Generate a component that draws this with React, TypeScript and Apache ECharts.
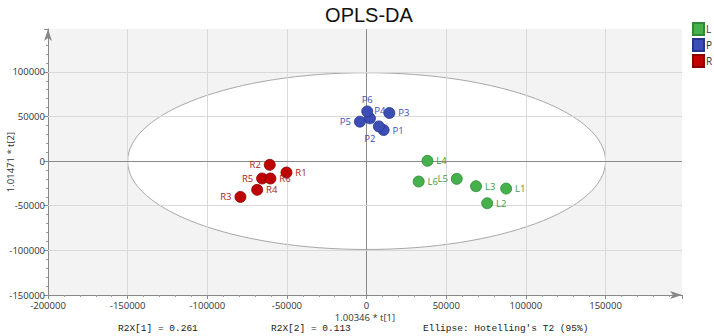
import React, { useEffect, useRef } from "react";
import * as echarts from "echarts";

// ---- data ----
const groupNames = ["L", "P", "R"];
const groupColors = ["#45b04c", "#3c4db5", "#c00000"];
const groupBorders = ["#2f8a37", "#27358c", "#8a0000"];
const groupLabelColors = ["#3f9a46", "#3c4db5", "#a51c1c"];

const lNames = ["L1", "L2", "L3", "L4", "L5", "L6"];
const lX = [87600, 75700, 68700, 38200, 56600, 32700];
const lY = [-30800, -47200, -28100, 300, -19900, -22900];

const pNames = ["P1", "P2", "P3", "P4", "P5", "P6"];
const pX = [10700, 7700, 14300, 2100, -4200, 400];
const pY = [34800, 38900, 53900, 47900, 44200, 55700];

const rNames = ["R1", "R2", "R3", "R4", "R5", "R6"];
const rX = [-50300, -60800, -79200, -68700, -65600, -60400];
const rY = [-12800, -4200, -40100, -32200, -19500, -19500];

const ellipseCenter = [0, 0];
const ellipseRadii = [150000, 99000];

const xRange = [-200000, 198000];
const yRange = [-150000, 148000];
const tickStep = 50000;
const xGridValues = [-150000, -100000, -50000, 0, 50000, 100000, 150000];
const yGridValues = [-100000, -50000, 0, 50000, 100000];

const footerTexts = ["R2X[1] = 0.261", "R2X[2] = 0.113", "Ellipse: Hotelling's T2 (95%)"];

// label placement per point (style)
const lPos = ["right", "right", "right", "right", "left", "right"];
const pPos = ["right", "bottom", "right", "top", "left", "top"];
const rPos = ["right", "left", "left", "right", "left", "right"];

function buildPoints(names: string[], xs: number[], ys: number[], pos: string[]) {
  return names.map((n, i) => {
    const item: any = {
      name: n,
      value: [xs[i], ys[i]],
      label: { position: pos[i] },
    };
    if (n === "P2") item.label.offset = [-9, -2];
    if (n === "P4") item.label.offset = [10, 6];
    if (n === "P6") item.label.offset = [0, 2];
    return item;
  });
}

export default function App() {
  const ref = useRef<HTMLDivElement>(null);
  useEffect(() => {
    if (!ref.current) return;
    const chart = echarts.init(ref.current, undefined, { renderer: "svg" });
    const labelFont = "'Open Sans', 'Noto Sans', sans-serif";
    const mono = "'Liberation Mono', 'DejaVu Sans Mono', monospace";
    const sets = [
      buildPoints(lNames, lX, lY, lPos),
      buildPoints(pNames, pX, pY, pPos),
      buildPoints(rNames, rX, rY, rPos),
    ];
    const gridLineStyle = { color: "#d9d9d9", width: 1, type: "solid" };
    const zeroLineStyle = { color: "#8a8a8a", width: 1, type: "solid" };
    const markData = [
      ...xGridValues.map((v) => ({ xAxis: v, lineStyle: v === 0 ? zeroLineStyle : gridLineStyle })),
      ...yGridValues.map((v) => ({ yAxis: v, lineStyle: v === 0 ? zeroLineStyle : gridLineStyle })),
    ];
    const axisCommon = (name: string, gap: number, margin: number) => ({
      type: "value",
      interval: tickStep,
      name,
      nameLocation: "middle",
      nameGap: gap,
      nameMoveOverlap: false,
      nameTextStyle: { fontSize: 9.5, color: "#333", fontFamily: labelFont },
      axisLine: {
        onZero: false,
        lineStyle: { color: "#888", width: 1 },
        symbol: ["none", "arrow"],
        symbolSize: [6, 12],
      },
      axisTick: { show: true, length: 4, lineStyle: { color: "#888" } },
      minorTick: { show: true, splitNumber: 5, length: 2, lineStyle: { color: "#999" } },
      axisLabel: {
        fontSize: 9.5,
        color: "#333",
        margin,
        fontFamily: labelFont,
        showMaxLabel: false,
        formatter: (v: number) => String(v),
      },
      splitLine: { show: false },
    });
    const option: any = {
      animation: false,
      backgroundColor: "#ffffff",
      title: {
        text: "OPLS-DA",
        left: 364,
        top: 0,
        textAlign: "center",
        textStyle: {
          fontFamily: "'Liberation Sans', Arial, sans-serif",
          fontSize: 20,
          fontWeight: "normal",
          color: "#111",
        },
      },
      legend: {
        orient: "vertical",
        left: 692,
        top: 22,
        padding: 0,
        itemWidth: 11,
        itemHeight: 12,
        itemGap: 2,
        icon: "rect",
        data: groupNames,
        textStyle: { fontSize: 10, color: "#333", padding: [0, 0, 0, -3], fontFamily: labelFont },
      },
      grid: {
        left: 48,
        right: 32,
        top: 29,
        bottom: 41,
        containLabel: false,
        outerBoundsMode: "none",
        show: false,
      },
      xAxis: { ...axisCommon("1.00346 * t[1]", 17, 5), min: xRange[0], max: xRange[1] },
      yAxis: { ...axisCommon("1.01471 * t[2]", 33, 3), min: yRange[0], max: yRange[1] },
      series: [
        {
          type: "custom",
          name: "ellipse",
          z: -1,
          silent: true,
          data: [[ellipseCenter[0], ellipseCenter[1], ellipseRadii[0], ellipseRadii[1]]],
          encode: { x: 0, y: 1 },
          renderItem: (params: any, api: any) => {
            const c = api.coord([api.value(0), api.value(1)]);
            const s = api.size([api.value(2), api.value(3)]);
            const cs = params.coordSys;
            return {
              type: "group",
              children: [
                {
                  type: "rect",
                  shape: { x: cs.x, y: cs.y, width: cs.width, height: cs.height },
                  style: { fill: "#f3f3f3" },
                },
                {
                  type: "ellipse",
                  shape: { cx: c[0], cy: c[1], rx: s[0], ry: s[1] },
                  style: { fill: "#ffffff", stroke: "#a8a8a8", lineWidth: 1 },
                },
              ],
            };
          },
          markLine: {
            silent: true,
            symbol: ["none", "none"],
            z: 1,
            label: { show: false },
            lineStyle: gridLineStyle,
            data: markData,
          },
        },
        ...groupNames.map((g, gi) => ({
          type: "scatter",
          name: g,
          z: 3,
          symbolSize: 11,
          data: sets[gi],
          itemStyle: { color: groupColors[gi], borderColor: groupBorders[gi], borderWidth: 0.8, opacity: 1 },
          label: {
            show: true,
            formatter: "{b}",
            fontSize: 9.5,
            distance: 3,
            color: groupLabelColors[gi],
            fontFamily: labelFont,
          },
        })),
      ],
      graphic: [
        {
          type: "text",
          left: 118,
          top: 323,
          style: { text: footerTexts[0], fontSize: 9.5, fontFamily: mono, fill: "#222" },
        },
        {
          type: "text",
          left: 271,
          top: 323,
          style: { text: footerTexts[1], fontSize: 9.5, fontFamily: mono, fill: "#222" },
        },
        {
          type: "text",
          left: 423,
          top: 323,
          style: { text: footerTexts[2], fontSize: 9.5, fontFamily: mono, fill: "#222" },
        },
      ],
    };
    chart.setOption(option);
    return () => chart.dispose();
  }, []);
  return <div ref={ref} style={{ width: 714, height: 336, position: "absolute", left: 0, top: 0 }} />;
}
